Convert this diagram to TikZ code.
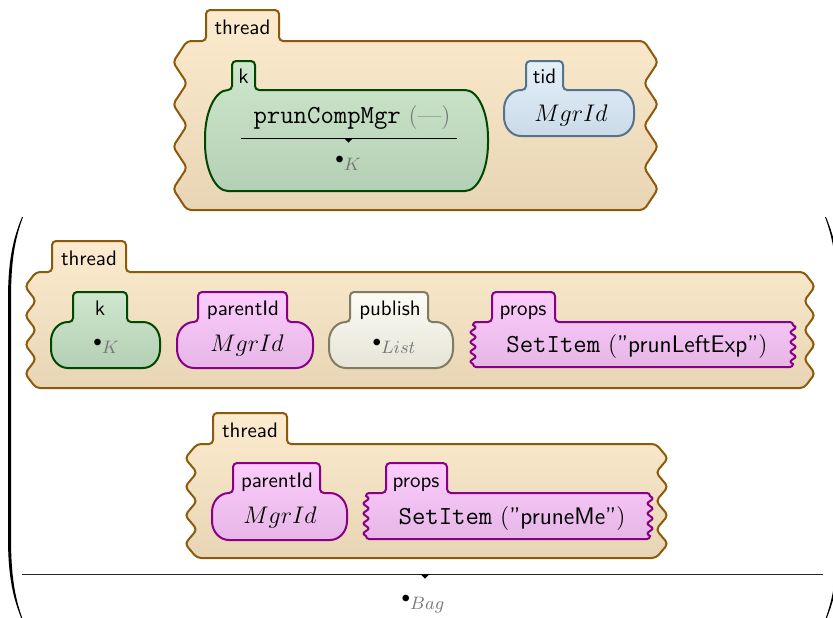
\documentclass[tikz,border=0pt]{standalone}
\usepackage{fontspec}

\definecolor{thrBorder}{RGB}{140,90,10}
\definecolor{thrTop}{RGB}{252,235,206}
\definecolor{thrBot}{RGB}{231,213,181}
\definecolor{kBorder}{RGB}{0,72,0}
\definecolor{kTop}{RGB}{206,231,206}
\definecolor{kBot}{RGB}{180,208,180}
\definecolor{tidBorder}{RGB}{85,115,140}
\definecolor{tidTop}{RGB}{228,241,251}
\definecolor{tidBot}{RGB}{203,218,232}
\definecolor{pinkBorder}{RGB}{135,0,135}
\definecolor{pinkTop}{RGB}{252,204,252}
\definecolor{pinkBot}{RGB}{230,182,230}
\definecolor{pubBorder}{RGB}{128,124,100}
\definecolor{pubTop}{RGB}{252,252,245}
\definecolor{pubBot}{RGB}{230,228,215}
\definecolor{sortgray}{RGB}{120,120,120}

% code and string literals
\newcommand\kcode[1]{{\ttfamily\fontsize{13}{15}\selectfont #1}}
\newcommand\kstr[1]{{\sffamily "#1"}}
% variable of a sort: small bullet with the sort name set low beside it
\newcommand\ksortvar[1]{\raisebox{0.5pt}{$\scriptstyle\bullet$}\raisebox{-3.2pt}{\fontsize{9}{10}\selectfont\textcolor{sortgray}{$#1$}}}

% cell with jagged (open) left and right sides
% #1 style, #2 xL, #3 xR, #4 top, #5 bottom, #6 tab left, #7 tab right, #8 tab top, #9 jag depth
\newcommand\kthreadbody[9]{%
  \path[#1, rounded corners=2pt] ({(#6+#7)/2},#8) -- (#7,#8) -- (#7,#4) -- (#3,#4)
    -- ({#3+#9},{#4+(#5-#4)/8}) -- (#3,{#4+2*(#5-#4)/8})
    -- ({#3+#9},{#4+3*(#5-#4)/8}) -- (#3,{#4+4*(#5-#4)/8})
    -- ({#3+#9},{#4+5*(#5-#4)/8}) -- (#3,{#4+6*(#5-#4)/8})
    -- ({#3+#9},{#4+7*(#5-#4)/8}) -- (#3,#5)
    -- (#2,#5)
    -- ({#2-#9},{#4+7*(#5-#4)/8}) -- (#2,{#4+6*(#5-#4)/8})
    -- ({#2-#9},{#4+5*(#5-#4)/8}) -- (#2,{#4+4*(#5-#4)/8})
    -- ({#2-#9},{#4+3*(#5-#4)/8}) -- (#2,{#4+2*(#5-#4)/8})
    -- ({#2-#9},{#4+(#5-#4)/8}) -- (#2,#4)
    -- (#6,#4) -- (#6,#8) -- cycle;}

% closed cell with rounded ends; vertical corner radius in \kry
% #1 style, #2 x1, #3 x2, #4 top, #5 bottom, #6 tab left, #7 tab right, #8 tab top, #9 horizontal radius
\newcommand\kroundcell[9]{%
  \path[#1] ({(#6+#7)/2},#8) -- ({#7-4},#8) arc[start angle=270,end angle=360,radius=4]
    -- (#7,{#4-4}) arc[start angle=180,end angle=90,radius=4]
    -- ({#3-#9},#4) arc[start angle=270,end angle=360,x radius=#9,y radius=\kry]
    -- (#3,{#5-\kry}) arc[start angle=0,end angle=90,x radius=#9,y radius=\kry]
    -- ({#2+#9},#5) arc[start angle=90,end angle=180,x radius=#9,y radius=\kry]
    -- (#2,{#4+\kry}) arc[start angle=180,end angle=270,x radius=#9,y radius=\kry]
    -- ({#6-4},#4) arc[start angle=90,end angle=0,radius=4]
    -- (#6,{#8+4}) arc[start angle=180,end angle=270,radius=4]
    -- cycle;}

% cell with wavy left and right sides
% #1 style, #2 x1, #3 x2, #4 top, #5 bottom, #6 tab left, #7 tab right, #8 tab top, #9 number of waves
\newcommand\kwavycell[9]{%
  \path[#1] ({(#6+#7)/2},#8) -- ({#7-4},#8) arc[start angle=270,end angle=360,radius=4]
    -- (#7,{#4-4}) arc[start angle=180,end angle=90,radius=4]
    -- ({#3-3},#4) arc[start angle=270,end angle=360,radius=3]
    -- plot[domain=0:1,samples=61] ({#3+2.4*sin(\x*#9*360)},{#4+3+\x*(#5-#4-6)})
    -- (#3,{#5-3}) arc[start angle=0,end angle=90,radius=3]
    -- ({#2+3},#5) arc[start angle=90,end angle=180,radius=3]
    -- plot[domain=0:1,samples=61] ({#2-2.4*sin(\x*#9*360)},{#5-3-\x*(#5-#4-6)})
    -- (#2,{#4+3}) arc[start angle=180,end angle=270,radius=3]
    -- ({#6-4},#4) arc[start angle=90,end angle=0,radius=4]
    -- (#6,{#8+4}) arc[start angle=180,end angle=270,radius=4]
    -- cycle;}

\tikzset{
  thr/.style={draw=thrBorder, top color=thrTop, bottom color=thrBot, line width=1pt},
  kgreen/.style={draw=kBorder, top color=kTop, bottom color=kBot, line width=1pt},
  kblue/.style={draw=tidBorder, top color=tidTop, bottom color=tidBot, line width=1pt},
  kpink/.style={draw=pinkBorder, top color=pinkTop, bottom color=pinkBot, line width=1pt},
  kpub/.style={draw=pubBorder, top color=pubTop, bottom color=pubBot, line width=1pt},
  lbl/.style={font=\sffamily\fontsize{10.5}{12}\selectfont, anchor=base, inner sep=0pt},
  txt/.style={font=\fontsize{12}{14}\selectfont, anchor=base, inner sep=0pt},
  rule/.style={line width=0.5pt, black},
  paren/.style={fill=black},
}

\begin{document}
\begin{tikzpicture}[x=0.5pt, y=-0.5pt]
\useasboundingbox (0,0) rectangle (833,617);
\fill[white] (0,0) rectangle (833,617);
\clip (0,0) rectangle (833,617);

% ---- first thread ----
\kthreadbody{thr}{187}{644}{41}{210}{206}{279}{10}{14}
\node[lbl] (thrA) at (242.5,34) {thread};
\def\kry{48}
\kroundcell{kgreen}{205}{488}{90}{191}{232}{255}{61}{23}
\node[lbl] (kA) at (243.5,83) {k};
\node[txt] (kAtop) at (352,123) {\kcode{prunCompMgr}\ \textcolor{sortgray}{(---)}};
\draw[rule] (241,138) -- (457,138);
\fill (344,138) -- (353,138) -- (348.5,142.5) -- cycle;
\node[txt] (kAbot) at (348,164) {\ksortvar{K}};
\def\kry{19}
\kroundcell{kblue}{504}{634}{90}{136}{526}{563}{61}{17}
\node[lbl] (tidA) at (544.5,83) {tid};
\node[txt] (tidAval) at (571,121) {$MgrId$};

% ---- bag of threads ----
% big parentheses
\fill[paren] (22,217) .. controls (12.5,240) and (8,262) .. (8,300) -- (8,537)
  .. controls (8,575) and (12.5,597) .. (22,620) -- (23,620)
  .. controls (14.5,597) and (11,575) .. (11,537) -- (11,300)
  .. controls (11,262) and (14.5,240) .. (23,217) -- cycle;
\fill[paren] (826,217) .. controls (835.5,240) and (840,262) .. (840,300) -- (840,537)
  .. controls (840,575) and (835.5,597) .. (826,620) -- (825,620)
  .. controls (833.5,597) and (837,575) .. (837,537) -- (837,300)
  .. controls (837,262) and (833.5,240) .. (825,217) -- cycle;

% second thread
\kthreadbody{thr}{36}{804}{272}{388}{52}{126}{241}{11}
\node[lbl] (thrB) at (89,265) {thread};
\kroundcell{kgreen}{51}{160}{322}{368}{73}{127}{292}{17}
\node[lbl] (kB) at (100,315) {k};
\node[txt] (kBval) at (106,347) {\ksortvar{K}};
\kroundcell{kpink}{177}{313}{322}{368}{198}{287}{292}{17}
\node[lbl] (parB) at (243,315) {parentId};
\node[txt] (parBval) at (247,351) {$MgrId$};
\kroundcell{kpub}{329}{453}{322}{368}{350}{428}{292}{17}
\node[lbl] (pubB) at (390,315) {publish};
\node[txt] (pubBval) at (394,347) {\ksortvar{List}};
\kwavycell{kpink}{473}{793}{322}{367}{492}{555}{292}{4}
\node[lbl] (propB) at (523,315) {props};
\node[txt] (propBval) at (637,352) {\kcode{SetItem}\ (\kstr{prunLeftExp})};

% third thread
\kthreadbody{thr}{197}{656}{444}{558}{213}{287}{413}{12}
\node[lbl] (thrC) at (250,437) {thread};
\kroundcell{kpink}{212}{347}{493}{540}{233}{320}{463}{17}
\node[lbl] (parC) at (277,487) {parentId};
\node[txt] (parCval) at (280,523) {$MgrId$};
\kwavycell{kpink}{366}{650}{493}{539}{386}{447}{463}{4}
\node[lbl] (propC) at (416,487) {props};
\node[txt] (propCval) at (512,524) {\kcode{SetItem}\ (\kstr{pruneMe})};

% bag sort
\draw[rule, black!85] (22,574) -- (823,574);
\fill (420.5,574) -- (429.5,574) -- (425,578.5) -- cycle;
\node[txt] (bagval) at (423,603) {\ksortvar{Bag}};
\end{tikzpicture}
\end{document}
